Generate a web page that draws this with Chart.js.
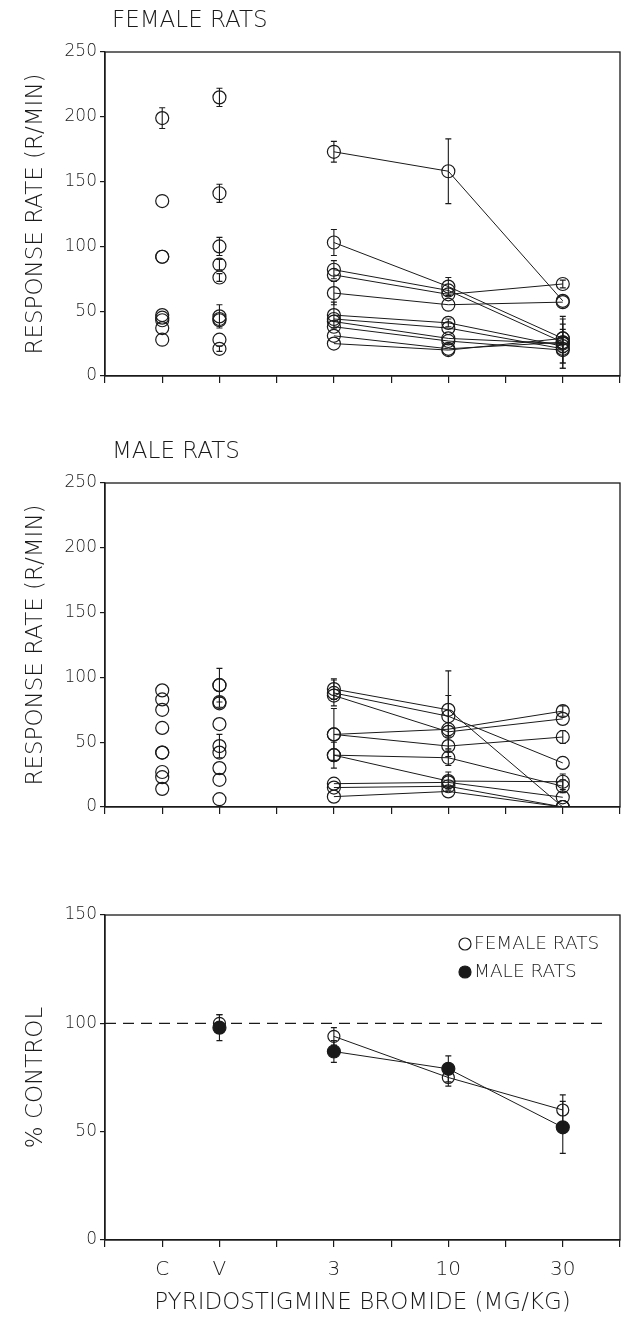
<!DOCTYPE html>
<html>
<head>
<meta charset="UTF-8" />
<title>Pyridostigmine bromide - response rate</title>
<script src="https://cdn.jsdelivr.net/npm/chart.js"></script>
<style>
  html, body { margin: 0; padding: 0; background: #fff; }
  #wrap { position: relative; width: 631px; height: 1325px; }
  #wrap canvas { position: absolute; left: 0; }
</style>
</head>
<body>
<div id="wrap">
  <canvas id="female" width="631" height="430" style="top:0"></canvas>
  <canvas id="male" width="631" height="431" style="top:430px"></canvas>
  <canvas id="pct" width="631" height="464" style="top:861px"></canvas>
</div>

<script>
/* ---- dose axis: C=1, V=2, 3 mg/kg=4, 10 mg/kg=6, 30 mg/kg=8 ---- */
const xC = 1, xV = 2, xDoses = [4, 6, 8];
const tickText = {1: 'C', 2: 'V', 4: '3', 6: '10', 8: '30'};

/* ---- female rats (R/MIN) ---- */
const femaleC    = [199, 135, 92, 92, 47, 45, 43, 37, 28];
const femaleCErr = [8, 0, 0, 0, 0, 0, 0, 0, 0];
const femaleV    = [215, 141, 100, 86, 76, 46, 44, 43, 28, 21];
const femaleVErr = [7, 7, 7, 4, 3, 9, 0, 0, 0, 2];
// one entry per rat: 3, 10, 30 mg/kg
const female3     = [173, 103, 82, 78, 64, 47, 44, 42, 38, 31, 25];
const female10    = [158, 69, 66, 63, 55, 41, 37, 29, 27, 21, 20];
const female30    = [58, 29, 26, 71, 57, 23, 21, 25, 20, 26, 29];
const female3Err  = [8, 10, 7, 0, 9, 10, 0, 0, 0, 0, 0];
const female10Err = [25, 7, 0, 0, 0, 3, 0, 0, 0, 0, 0];
const female30Err = [0, 0, 0, 3, 0, 13, 0, 19, 10, 20, 11];

/* ---- male rats (R/MIN) ---- */
const maleC    = [90, 83, 75, 61, 42, 42, 27, 23, 14];
const maleCErr = [0, 0, 0, 0, 0, 0, 0, 0, 0];
const maleV    = [94, 94, 81, 80, 64, 47, 42, 30, 21, 6];
const maleVErr = [13, 0, 4, 0, 0, 9, 0, 0, 0, 0];
const male3     = [91, 88, 86, 56, 56, 40, 40, 18, 15, 8];
const male10    = [75, 70, 58, 60, 47, 38, 20, 19, 16, 12];
const male30    = [0, 34, 68, 74, 54, 16, 19.5, 7.5, 0, 0];
const male3Err  = [8, 10, 0, 20, 0, 10, 0, 0, 0, 0];
const male10Err = [30, 16, 0, 0, 8, 6, 7, 0, 0, 0];
const male30Err = [0, 0, 0, 4, 5, 5, 6, 0, 0, 0];

/* ---- % control (V, 3, 10, 30) ---- */
const pctX          = [2, 4, 6, 8];
const femalePct     = [100, 94, 75, 60];
const femalePctErr  = [4, 4, 4, 7];
const malePct       = [98, 87, 79, 52];
const malePctErr    = [6, 5, 6, 12];
const controlLine   = [{x: 0, y: 100}, {x: 8.7, y: 100}];

const FONT = "'DejaVu Sans', sans-serif";
const WEIGHT = '300';
const INK = '#1a1a1a';

/* error bars drawn from each dataset's "errors" list */
const errorBars = {
  id: 'errorBars',
  afterDatasetsDraw(chart) {
    const ctx = chart.ctx, ys = chart.scales.y;
    ctx.save();
    ctx.strokeStyle = INK; ctx.lineWidth = 1.1;
    chart.data.datasets.forEach((ds, i) => {
      if (!ds.errors) return;
      chart.getDatasetMeta(i).data.forEach((pt, j) => {
        const e = ds.errors[j];
        if (!e) return;
        const v = ds.data[j].y;
        const top = ys.getPixelForValue(v + e);
        const bot = ys.getPixelForValue(Math.max(v - e, ys.min));
        ctx.beginPath();
        ctx.moveTo(pt.x, top); ctx.lineTo(pt.x, bot);
        ctx.moveTo(pt.x - 3, top); ctx.lineTo(pt.x + 3, top);
        ctx.moveTo(pt.x - 3, bot); ctx.lineTo(pt.x + 3, bot);
        ctx.stroke();
      });
    });
    ctx.restore();
  }
};

/* box round the plot, panel heading, small legend */
const frame = {
  id: 'frame',
  beforeDatasetsDraw(chart) {
    const {ctx, chartArea: a} = chart;
    ctx.save();
    ctx.strokeStyle = INK; ctx.lineWidth = 1.3;
    ctx.strokeRect(a.left, a.top, a.right - a.left, a.bottom - a.top);
    ctx.restore();
  },
  afterDraw(chart, args, opts) {
    const {ctx, chartArea: a} = chart;
    ctx.save();
    ctx.fillStyle = INK;
    if (opts.heading) {
      ctx.font = WEIGHT + ' 23px ' + FONT;
      ctx.textBaseline = 'alphabetic';
      ctx.fillText(opts.heading, a.left + 7, a.top - 25);
    }
    if (opts.legend) {
      ctx.font = WEIGHT + ' 18.5px ' + FONT;
      ctx.textBaseline = 'middle';
      opts.legend.forEach((item, k) => {
        const y = a.top + 29 + k * 28, x = a.left + 360;
        ctx.beginPath();
        ctx.arc(x, y, 6, 0, Math.PI * 2);
        if (item.filled) ctx.fill();
        ctx.lineWidth = 1.2; ctx.strokeStyle = INK; ctx.stroke();
        ctx.fillText(item.text, x + 9, y);
      });
    }
    ctx.restore();
  }
};

function scatterSet(x, values, errs) {
  return {
    data: values.map(v => ({x, y: v})), errors: errs, showLine: false,
    pointRadius: 6.5, pointBorderWidth: 1.2,
    pointBorderColor: INK, pointBackgroundColor: 'rgba(0,0,0,0)'
  };
}

function ratLines(d3, d10, d30, e3, e10, e30) {
  return d3.map((v, i) => ({
    data: [{x: xDoses[0], y: v}, {x: xDoses[1], y: d10[i]}, {x: xDoses[2], y: d30[i]}],
    errors: [e3[i], e10[i], e30[i]], showLine: true,
    borderColor: INK, borderWidth: 1, pointRadius: 6.5, pointBorderWidth: 1.2,
    pointBorderColor: INK, pointBackgroundColor: 'rgba(0,0,0,0)'
  }));
}

function scales(yMax, yTitle, xHeight, withLabels) {
  return {
    x: {
      type: 'linear', min: 0, max: 9,
      afterFit: s => { s.height = xHeight; },
      ticks: {
        stepSize: 1, autoSkip: false, maxRotation: 0, padding: 11, color: INK,
        font: {family: FONT, size: 20, weight: WEIGHT},
        callback: v => withLabels ? (tickText[v] || '') : ''
      },
      grid: {drawOnChartArea: false, tickLength: 7, color: INK, lineWidth: 1.2},
      border: {color: INK, width: 1.3},
      title: {
        display: withLabels, text: 'PYRIDOSTIGMINE BROMIDE (MG/KG)', color: INK,
        font: {family: FONT, size: 23, weight: WEIGHT}, padding: {top: 0, bottom: 8}
      }
    },
    y: {
      min: 0, max: yMax,
      afterFit: s => { s.width = 105; },
      ticks: {stepSize: 50, padding: 3, color: INK, font: {family: FONT, size: 17, weight: WEIGHT}},
      grid: {drawOnChartArea: false, tickLength: 5, color: INK, lineWidth: 1.2},
      border: {color: INK, width: 1.3},
      title: {
        display: true, text: yTitle, color: INK,
        font: {family: FONT, size: 23, weight: WEIGHT}, padding: {top: 22, bottom: 0}
      }
    }
  };
}

function baseOptions(yMax, yTitle, xHeight, withLabels, padTop, framing) {
  return {
    responsive: false, animation: false,
    layout: {padding: {top: padTop, right: 11, left: 0, bottom: 0}},
    scales: scales(yMax, yTitle, xHeight, withLabels),
    plugins: {legend: {display: false}, tooltip: {enabled: false}, frame: framing}
  };
}

new Chart(document.getElementById('female'), {
  type: 'scatter',
  data: {datasets: [
    scatterSet(xC, femaleC, femaleCErr),
    scatterSet(xV, femaleV, femaleVErr),
    ...ratLines(female3, female10, female30, female3Err, female10Err, female30Err)
  ]},
  options: baseOptions(250, 'RESPONSE RATE (R/MIN)', 54, false, 52, {heading: 'FEMALE RATS'}),
  plugins: [frame, errorBars]
});

new Chart(document.getElementById('male'), {
  type: 'scatter',
  data: {datasets: [
    scatterSet(xC, maleC, maleCErr),
    scatterSet(xV, maleV, maleVErr),
    ...ratLines(male3, male10, male30, male3Err, male10Err, male30Err)
  ]},
  options: baseOptions(250, 'RESPONSE RATE (R/MIN)', 54, false, 53, {heading: 'MALE RATS'}),
  plugins: [frame, errorBars]
});

const dropFirstSegment = {borderColor: c => c.p0DataIndex === 0 ? 'rgba(0,0,0,0)' : INK};

new Chart(document.getElementById('pct'), {
  type: 'scatter',
  data: {datasets: [
    {data: controlLine, showLine: true, borderColor: INK, borderWidth: 1.2,
     borderDash: [11, 7], pointRadius: 0},
    {data: pctX.map((x, i) => ({x, y: femalePct[i]})), errors: femalePctErr,
     showLine: true, segment: dropFirstSegment, borderColor: INK, borderWidth: 1,
     pointRadius: 6, pointBorderWidth: 1.2, pointBorderColor: INK,
     pointBackgroundColor: 'rgba(0,0,0,0)'},
    {data: pctX.map((x, i) => ({x, y: malePct[i]})), errors: malePctErr,
     showLine: true, segment: dropFirstSegment, borderColor: INK, borderWidth: 1,
     pointRadius: 6.5, pointBorderWidth: 1.2, pointBorderColor: INK,
     pointBackgroundColor: INK}
  ]},
  options: baseOptions(150, '% CONTROL', 85, true, 54,
    {legend: [{text: 'FEMALE RATS', filled: false}, {text: 'MALE RATS', filled: true}]}),
  plugins: [frame, errorBars]
});
</script>
</body>
</html>
